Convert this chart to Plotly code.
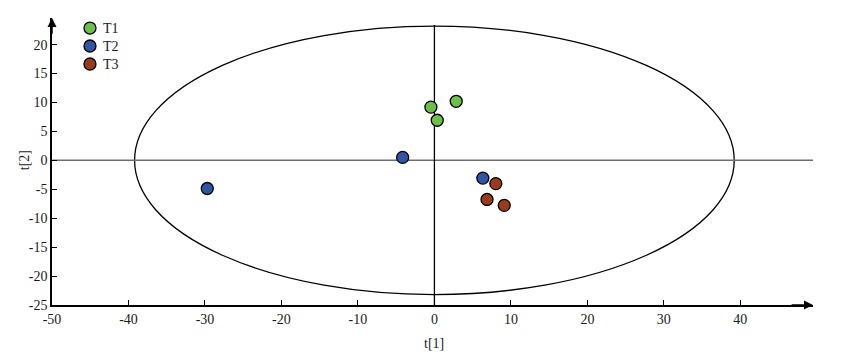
import plotly.graph_objects as go

groups = ["T1", "T2", "T3"]
colors = {"T1": "#6cc04a", "T2": "#2f55a4", "T3": "#9a3a1f"}
t1_vals = {
    "T1": [-0.46, 2.85, 0.37],
    "T2": [-4.15, 6.33, -29.7],
    "T3": [8.03, 6.88, 9.13],
}
t2_vals = {
    "T1": [9.2, 10.2, 6.93],
    "T2": [0.51, -3.07, -4.87],
    "T3": [-4.02, -6.76, -7.78],
}
x_ticks = [-50, -40, -30, -20, -10, 0, 10, 20, 30, 40]
y_ticks = [-25, -20, -15, -10, -5, 0, 5, 10, 15, 20]

XMIN, XMAX = -50, 49.5
YMIN, YMAX = -25, 24.6
ELL_A, ELL_B = 39.2, 23.2

FONT = "Liberation Serif, Times New Roman, serif"
TXT = "#1a1a1a"

fig = go.Figure()
for g in groups:
    fig.add_trace(go.Scatter(
        x=t1_vals[g], y=t2_vals[g], mode="markers", name=g, showlegend=False,
        marker=dict(size=12, color=colors[g], line=dict(color="black", width=1.3)),
    ))

# Hotelling ellipse
fig.add_shape(type="circle", xref="x", yref="y", x0=-ELL_A, x1=ELL_A, y0=-ELL_B, y1=ELL_B,
              line=dict(color="black", width=1.3), layer="below")
# zero lines
fig.add_shape(type="line", xref="x", yref="y", x0=XMIN, x1=49.9, y0=0, y1=0,
              line=dict(color="#6e6e6e", width=1.5), layer="below")
fig.add_shape(type="line", xref="x", yref="y", x0=0, x1=0, y0=YMIN, y1=23.4,
              line=dict(color="black", width=1.3), layer="below")

# axis arrows
fig.add_annotation(x=XMAX, y=YMIN, ax=XMAX - 3, ay=YMIN, xref="x", yref="y", axref="x", ayref="y",
                   showarrow=True, arrowhead=2, arrowsize=1.2, arrowwidth=1.5, arrowcolor="black", text="")
fig.add_annotation(x=XMIN, y=YMAX, ax=XMIN, ay=YMAX - 3, xref="x", yref="y", axref="x", ayref="y",
                   showarrow=True, arrowhead=2, arrowsize=1.2, arrowwidth=1.5, arrowcolor="black", text="")

# legend (manual, compact)
leg_x = 0.0499
leg_ys = [0.965, 0.9024, 0.8397]
for g, ly in zip(groups, leg_ys):
    fig.add_shape(type="circle", xref="paper", yref="paper", xsizemode="pixel", ysizemode="pixel",
                  xanchor=leg_x, yanchor=ly, x0=-6, x1=6, y0=-6, y1=6,
                  fillcolor=colors[g], line=dict(color="black", width=1.3))
    fig.add_annotation(x=0.0644, y=ly, xref="paper", yref="paper", text=g, showarrow=False,
                       xanchor="left", yanchor="middle", font=dict(family=FONT, size=14, color=TXT))

# axis titles
fig.add_annotation(x=0, y=YMIN, xref="x", yref="y", yshift=-29, text="t[1]", showarrow=False,
                   xanchor="center", yanchor="top", font=dict(family=FONT, size=14, color=TXT))
fig.add_annotation(x=-0.037, y=0, xref="paper", yref="y", text="t[2]", showarrow=False, textangle=-90,
                   xanchor="center", yanchor="middle", font=dict(family=FONT, size=14, color=TXT))

axis_common = dict(showline=True, linecolor="black", linewidth=1.5, ticks="inside", ticklen=5,
                   tickcolor="black", tickwidth=1.2, showgrid=False, zeroline=False,
                   tickfont=dict(family=FONT, size=14, color=TXT))
fig.update_xaxes(range=[XMIN, XMAX], tickvals=x_ticks, ticktext=[str(v) for v in x_ticks], **axis_common)
fig.update_yaxes(range=[YMIN, YMAX], tickvals=y_ticks, ticktext=[str(v) for v in y_ticks], **axis_common)

fig.update_layout(
    width=867, height=353,
    margin=dict(l=52, r=54, t=18, b=48),
    plot_bgcolor="white", paper_bgcolor="white",
    font=dict(family=FONT, size=14, color=TXT),
    showlegend=False,
)

fig.write_html("out.html")
